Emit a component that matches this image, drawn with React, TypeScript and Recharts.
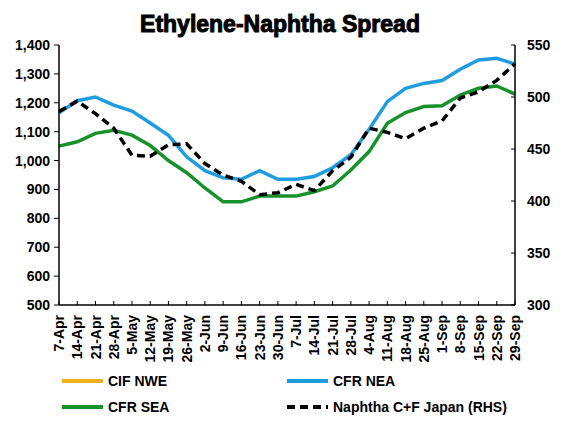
import { LineChart, Line, XAxis, YAxis } from 'recharts';

// week-ending dates on the x axis
const CATEGORIES = [
  '7-Apr', '14-Apr', '21-Apr', '28-Apr', '5-May', '12-May', '19-May', '26-May',
  '2-Jun', '9-Jun', '16-Jun', '23-Jun', '30-Jun', '7-Jul', '14-Jul', '21-Jul',
  '28-Jul', '4-Aug', '11-Aug', '18-Aug', '25-Aug', '1-Sep', '8-Sep', '15-Sep',
  '22-Sep', '29-Sep',
];

// ethylene (LHS)
const CFR_NEA = [
  1165, 1207, 1220, 1192, 1171, 1130, 1087, 1013, 965, 940, 935, 965, 935,
  935, 945, 975, 1020, 1108, 1204, 1250, 1267, 1277, 1316, 1348, 1354, 1334,
];
const CFR_SEA = [
  1050, 1065, 1094, 1105, 1088, 1052, 1000, 958, 905, 857, 857, 877, 877,
  877, 892, 912, 967, 1031, 1129, 1166, 1187, 1190, 1227, 1250, 1258, 1230,
];

// naphtha (RHS)
const NAPHTHA_JAPAN = [
  486, 496, 484, 470, 444, 443, 454, 455, 436, 425, 419, 406, 408,
  416, 410, 429, 442, 470, 466, 460, 470, 477, 499, 505, 516, 532,
];

const LEFT_TICKS = [500, 600, 700, 800, 900, 1000, 1100, 1200, 1300, 1400];
const RIGHT_TICKS = [300, 350, 400, 450, 500, 550];

const COLORS = {
  nwe: '#F2B01E',
  nea: '#1F9CE0',
  sea: '#17922B',
  naphtha: '#000000',
};

const LEGEND = [
  { label: 'CIF NWE', color: COLORS.nwe, dash: undefined },
  { label: 'CFR NEA', color: COLORS.nea, dash: undefined },
  { label: 'CFR SEA', color: COLORS.sea, dash: undefined },
  { label: 'Naphtha C+F Japan (RHS)', color: COLORS.naphtha, dash: '8 5' },
];

const FONT = '"Liberation Sans", Arial, Helvetica, sans-serif';

const data = CATEGORIES.map((date, i) => ({
  date,
  nea: CFR_NEA[i],
  sea: CFR_SEA[i],
  naphtha: NAPHTHA_JAPAN[i],
}));

function XTick(props: any) {
  const { x, y, payload } = props;
  return (
    <g>
      <line x1={x} x2={x} y1={y - 6} y2={y - 10} stroke="#000" strokeWidth={1} />
      <text
        transform={`translate(${x},${y + 4}) rotate(-90)`}
        textAnchor="end"
        dy="0.36em"
        fontSize={14}
        fontWeight="bold"
        fontFamily={FONT}
        fill="#000"
      >
        {payload.value}
      </text>
    </g>
  );
}

function RightTick(props: any) {
  const { x, y, payload } = props;
  return (
    <g>
      <line x1={x - 12} x2={x - 16} y1={y} y2={y} stroke="#000" strokeWidth={1} />
      <text x={x} y={y} dy="0.36em" textAnchor="start" fontSize={14} fontWeight="bold" fontFamily={FONT} fill="#000">
        {payload.value}
      </text>
    </g>
  );
}

export default function App() {
  return (
    <div style={{ position: 'absolute', left: 0, top: 0, width: 576, height: 435, background: '#fff', fontFamily: FONT }}>
      <div
        style={{
          position: 'absolute',
          top: 13,
          left: 0,
          width: 560,
          textAlign: 'center',
          fontSize: 23,
          lineHeight: '23px',
          fontWeight: 900,
          WebkitTextStroke: '1px #000',
          color: '#000',
        }}
      >
        Ethylene-Naphtha Spread
      </div>

      <LineChart width={576} height={435} data={data} margin={{ top: 45, right: 11, bottom: 60, left: 9 }}>
        <XAxis
          dataKey="date"
          interval={0}
          height={70}
          tickSize={0}
          tickMargin={6}
          tickLine={false}
          tick={<XTick />}
          axisLine={{ stroke: '#000', strokeWidth: 1.5 }}
        />
        <YAxis
          yAxisId="left"
          domain={[500, 1400]}
          ticks={LEFT_TICKS}
          width={50}
          tickSize={5}
          tickMargin={4}
          tickFormatter={(v: number) => v.toLocaleString('en-US')}
          tick={{ fontSize: 14, fontWeight: 'bold', fill: '#000', fontFamily: FONT }}
          tickLine={{ stroke: '#000' }}
          axisLine={{ stroke: '#000', strokeWidth: 1.5 }}
        />
        <YAxis
          yAxisId="right"
          orientation="right"
          domain={[300, 550]}
          ticks={RIGHT_TICKS}
          width={50}
          tickSize={0}
          tickMargin={12}
          tickLine={false}
          tick={<RightTick />}
          axisLine={{ stroke: '#000', strokeWidth: 1.5 }}
        />
        <Line yAxisId="left" dataKey="nea" stroke={COLORS.nea} strokeWidth={3.5} dot={false} isAnimationActive={false} />
        <Line yAxisId="left" dataKey="sea" stroke={COLORS.sea} strokeWidth={3.5} dot={false} isAnimationActive={false} />
        <Line
          yAxisId="right"
          dataKey="naphtha"
          stroke={COLORS.naphtha}
          strokeWidth={3.5}
          strokeDasharray="8 5"
          dot={false}
          isAnimationActive={false}
        />
      </LineChart>

      {/* legend: 2 x 2 grid */}
      {LEGEND.map((item, i) => {
        const left = i % 2 === 0 ? 62 : 287;
        const top = i < 2 ? 372 : 398;
        return (
          <div key={item.label} style={{ position: 'absolute', left, top, height: 18, display: 'flex', alignItems: 'center' }}>
            <svg width={42} height={18}>
              <line x1={0} x2={41} y1={9} y2={9} stroke={item.color} strokeWidth={4} strokeDasharray={item.dash} />
            </svg>
            <span style={{ marginLeft: 4, fontSize: 14, fontWeight: 'bold', color: '#000', whiteSpace: 'nowrap' }}>{item.label}</span>
          </div>
        );
      })}
    </div>
  );
}
